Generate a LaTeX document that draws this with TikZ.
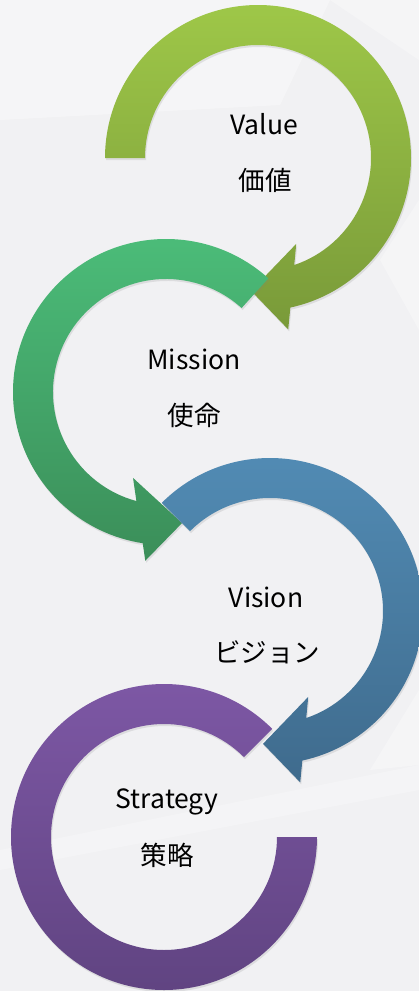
\documentclass[tikz,border=0pt]{standalone}
\usepackage{fontspec}
\setmainfont{Noto Sans CJK JP}
\usetikzlibrary{calc,shadows}
\definecolor{valuetop}{RGB}{158,199,72}
\definecolor{valuebot}{RGB}{121,154,57}
\definecolor{missiontop}{RGB}{76,190,122}
\definecolor{missionbot}{RGB}{59,142,89}
\definecolor{visiontop}{RGB}{82,140,181}
\definecolor{visionbot}{RGB}{63,107,141}
\definecolor{strategytop}{RGB}{126,88,166}
\definecolor{strategybot}{RGB}{95,67,128}
\definecolor{bggray}{RGB}{241,241,243}

\begin{document}
\begin{tikzpicture}[
    x=1pt, y=1pt,
    ring/.style={drop shadow={opacity=0.18, shadow xshift=1pt, shadow yshift=-2pt}},
    valuering/.style={ring, top color=valuetop, bottom color=valuebot},
    missionring/.style={ring, top color=missiontop, bottom color=missionbot},
    visionring/.style={ring, top color=visiontop, bottom color=visionbot},
    strategyring/.style={ring, top color=strategytop, bottom color=strategybot},
    label/.style={font=\fontsize{26.5}{31}\selectfont, text=black}
]

% Background
\fill[bggray] (0,0) rectangle (419,-991);
\useasboundingbox (0,0) rectangle (419,-991);
\fill[white, opacity=0.35] (0,0) -- (330,0) -- (280,-105) -- (0,-120) -- cycle;
\fill[white, opacity=0.3] (330,0) -- (419,0) -- (419,-60) -- cycle;
\fill[white, opacity=0.3] (419,-200) -- (380,-260) -- (419,-330) -- cycle;
\fill[white, opacity=0.3] (419,-690) -- (370,-770) -- (419,-765) -- cycle;
\fill[white, opacity=0.25] (0,-850) -- (419,-765) -- (419,-790) -- (0,-870) -- cycle;

% Ring centres
\coordinate (cvalue) at (258,-158);
\coordinate (cmission) at (166,-392);
\coordinate (cvision) at (270,-611);
\coordinate (cstrategy) at (164,-837);

% Value arrow (clockwise)
\path[valuering] ($(cvalue)+(180:153)$) arc[start angle=180, end angle=-77.8, radius=153]
    -- ($(cvalue)+(-80:174)$) -- ($(cvalue)+(-93:133)$) -- ($(cvalue)+(-66:94)$)
    -- ($(cvalue)+(-71.3:113)$) arc[start angle=-71.3, end angle=180, radius=113] -- cycle;

% Mission arrow (counterclockwise)
\path[missionring] ($(cmission)+(48:153)$) arc[start angle=48, end angle=261.25, radius=153]
    -- ($(cmission)+(263:170)$) -- ($(cmission)+(277:132)$) -- ($(cmission)+(249:92)$)
    -- ($(cmission)+(254.8:113)$) arc[start angle=254.8, end angle=48, radius=113] -- cycle;

% Vision arrow (clockwise)
\path[visionring] ($(cvision)+(135:153)$) arc[start angle=135, end angle=-77.8, radius=153]
    -- ($(cvision)+(-80:174)$) -- ($(cvision)+(-93:133)$) -- ($(cvision)+(-66:94)$)
    -- ($(cvision)+(-71.3:113)$) arc[start angle=-71.3, end angle=135, radius=113] -- cycle;

% Strategy ring (no head)
\path[strategyring] ($(cstrategy)+(45:153)$) arc[start angle=45, end angle=360, radius=153]
    -- ($(cstrategy)+(0:113)$) arc[start angle=360, end angle=45, radius=113] -- cycle;

% Labels
\node[label] (value) at (264,-124) {Value};
\node[label] (valuejp) at (265,-180) {価値};
\node[label] (mission) at (194,-359) {Mission};
\node[label] (missionjp) at (194,-415) {使命};
\node[label] (vision) at (266,-597) {Vision};
\node[label] (visionjp) at (267,-652) {ビジョン};
\node[label] (strategy) at (167,-802) {Strategy};
\node[label] (strategyjp) at (167,-855) {策略};

\end{tikzpicture}
\end{document}
